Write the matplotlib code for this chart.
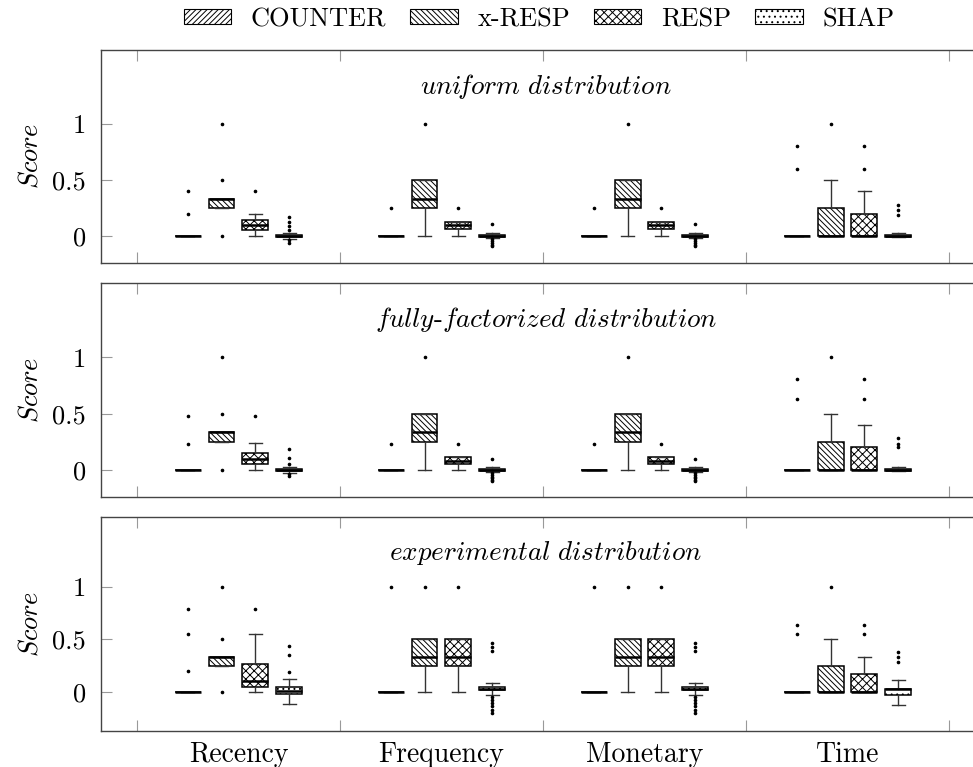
import matplotlib
matplotlib.use('Agg')
import matplotlib.pyplot as plt
from matplotlib.patches import Patch
import numpy as np

plt.rcParams['font.family'] = 'cmr10'
plt.rcParams['mathtext.fontset'] = 'cm'
plt.rcParams['axes.formatter.use_mathtext'] = True
plt.rcParams['hatch.linewidth'] = 0.7

features = ['Recency', 'Frequency', 'Monetary', 'Time']
methods = ['COUNTER', 'x-RESP', 'RESP', 'SHAP']
hatches = ['//////', '\\\\\\\\\\\\', 'xxxx', '...']
titles = [r'$\mathit{uni\!form\ distribution}$',
          r'$\mathit{fully}$-$\mathit{factorized\ distribution}$',
          r'$\mathit{experimental\ distribution}$']

# rows = features, columns = methods (COUNTER, x-RESP, RESP, SHAP)
######## uniform
uni_q1 = [[0, 0.25, 0.05, -0.005], [0, 0.25, 0.065, -0.005], [0, 0.25, 0.065, -0.005], [0, 0, 0, -0.005]]
uni_med = [[0, 0.333, 0.1, 0], [0, 0.333, 0.1, 0], [0, 0.333, 0.1, 0], [0, 0, 0, 0]]
uni_q3 = [[0, 0.333, 0.14, 0.01], [0, 0.5, 0.13, 0.01], [0, 0.5, 0.13, 0.01], [0, 0.25, 0.2, 0.01]]
uni_lo = [[0, 0.25, 0, -0.03], [0, 0, 0, -0.02], [0, 0, 0, -0.02], [0, 0, 0, -0.005]]
uni_hi = [[0, 0.333, 0.2, 0.03], [0, 0.5, 0.13, 0.03], [0, 0.5, 0.13, 0.03], [0, 0.5, 0.4, 0.03]]
uni_fl = [[[0.2, 0.4], [0, 0.5, 1], [0.4], [0.17, 0.13, 0.09, 0.05, -0.035, -0.065]],
          [[0.25], [1], [0.25], [0.11, -0.03, -0.045, -0.06, -0.075, -0.09]],
          [[0.25], [1], [0.25], [0.11, -0.03, -0.045, -0.06, -0.075, -0.09]],
          [[0.6, 0.8], [1], [0.6, 0.8], [0.19, 0.23, 0.28]]]

######## fully-factorized
ff_q1 = [[0, 0.25, 0.055, -0.005], [0, 0.25, 0.055, -0.005], [0, 0.25, 0.055, -0.005], [0, 0, 0, -0.005]]
ff_med = [[0, 0.333, 0.1, 0], [0, 0.333, 0.08, 0], [0, 0.333, 0.08, 0], [0, 0, 0, 0]]
ff_q3 = [[0, 0.333, 0.155, 0.01], [0, 0.5, 0.115, 0.01], [0, 0.5, 0.115, 0.01], [0, 0.25, 0.2, 0.01]]
ff_lo = [[0, 0.25, 0, -0.03], [0, 0, 0, -0.02], [0, 0, 0, -0.02], [0, 0, 0, -0.005]]
ff_hi = [[0, 0.333, 0.24, 0.03], [0, 0.5, 0.115, 0.03], [0, 0.5, 0.115, 0.03], [0, 0.5, 0.4, 0.03]]
ff_fl = [[[0.23, 0.48], [0, 0.5, 1], [0.48], [0.19, 0.11, 0.05, -0.04, -0.055]],
         [[0.23], [1], [0.23], [0.1, -0.03, -0.045, -0.06, -0.075, -0.09, -0.1]],
         [[0.23], [1], [0.23], [0.1, -0.03, -0.045, -0.06, -0.075, -0.09, -0.1]],
         [[0.63, 0.81], [1], [0.63, 0.81], [0.2, 0.23, 0.28]]]

######## experimental
ex_q1 = [[0, 0.25, 0.05, -0.02], [0, 0.25, 0.25, 0.02], [0, 0.25, 0.25, 0.02], [0, 0, 0, -0.03]]
ex_med = [[0, 0.333, 0.1, 0.01], [0, 0.333, 0.333, 0.03], [0, 0.333, 0.333, 0.03], [0, 0, 0, 0.03]]
ex_q3 = [[0, 0.333, 0.265, 0.05], [0, 0.5, 0.5, 0.05], [0, 0.5, 0.5, 0.05], [0, 0.25, 0.165, 0.03]]
ex_lo = [[0, 0.25, 0, -0.115], [0, 0, 0, -0.03], [0, 0, 0, -0.03], [0, 0, 0, -0.13]]
ex_hi = [[0, 0.333, 0.555, 0.125], [0, 0.5, 0.5, 0.08], [0, 0.5, 0.5, 0.08], [0, 0.5, 0.33, 0.115]]
ex_fl = [[[0.2, 0.55, 0.79], [0, 0.5, 1], [0.79], [0.185, 0.35, 0.44]],
         [[1], [1], [1], [0.39, 0.43, 0.47, -0.05, -0.08, -0.11, -0.14, -0.17, -0.2]],
         [[1], [1], [1], [0.39, 0.43, 0.47, -0.05, -0.08, -0.11, -0.14, -0.17, -0.2]],
         [[0.55, 0.64], [1], [0.55, 0.64], [0.28, 0.33, 0.38]]]

panels = [(uni_q1, uni_med, uni_q3, uni_lo, uni_hi, uni_fl),
          (ff_q1, ff_med, ff_q3, ff_lo, ff_hi, ff_fl),
          (ex_q1, ex_med, ex_q3, ex_lo, ex_hi, ex_fl)]
ylims = [(-0.24, 1.66), (-0.24, 1.66), (-0.375, 1.67)]

W, H = 973, 767
fig = plt.figure(figsize=(W / 100, H / 100), dpi=100)

# axes boxes in pixels (top, bottom); right edge runs off the picture
left, right = 101, 985
boxes_px = [(50, 263), (283, 497), (517, 731)]

offsets = [-0.25, -0.083, 0.083, 0.25]
feat_pos = np.arange(1, 5)
spine_col = '#444444'
tick_col = '#999999'

for p, (q1, med, q3, lo, hi, fl) in enumerate(panels):
    top, bot = boxes_px[p]
    ax = fig.add_axes([left / W, 1 - bot / H, (right - left) / W, (bot - top) / H])
    for m in range(4):
        stats = []
        for f in range(4):
            stats.append(dict(q1=q1[f][m], med=med[f][m], q3=q3[f][m],
                              whislo=lo[f][m], whishi=hi[f][m], fliers=fl[f][m]))
        ax.bxp(stats, positions=feat_pos + offsets[m], widths=0.127,
               patch_artist=True, manage_ticks=False,
               boxprops=dict(facecolor='white', edgecolor='black', hatch=hatches[m], linewidth=1.1),
               medianprops=dict(color='black', linewidth=1.8),
               whiskerprops=dict(color='#333333', linewidth=1.0),
               capprops=dict(color='#333333', linewidth=1.0),
               flierprops=dict(marker='o', markersize=1.6, markerfacecolor='black',
                               markeredgecolor='black', linestyle='none'))
    ax.set_xlim(0.323, 0.5 + (right - 137) / 203)
    ax.set_ylim(*ylims[p])
    ax.set_xticks(np.arange(0.5, 5, 1))
    ax.set_xticklabels([])
    ax.set_xticks(feat_pos, minor=True)
    if p == 2:
        ax.set_xticklabels(features, minor=True, fontsize=20)
    else:
        ax.set_xticklabels([], minor=True)
    ax.tick_params(axis='x', which='major', direction='in', top=True, length=8,
                   color=tick_col, width=0.8)
    ax.tick_params(axis='x', which='minor', length=0, pad=8)
    ax.set_yticks([0, 0.5, 1])
    ax.set_yticklabels(['0', '0.5', '1'], fontsize=19)
    ax.tick_params(axis='y', direction='in', right=True, length=8, color=tick_col,
                   width=0.8, pad=11)
    for s in ax.spines.values():
        s.set_color(spine_col)
        s.set_linewidth(1.0)
    ax.set_ylabel(r'$\mathit{Score}$', fontsize=19, labelpad=7)
    ax.text(0.503, 0.83, titles[p], transform=ax.transAxes, ha='center', va='center',
            fontsize=19.5)

handles = [Patch(facecolor='white', edgecolor='black', hatch=h, linewidth=0.8) for h in hatches]
fig.legend(handles, methods, loc='center', bbox_to_anchor=(0.554, 0.975), ncol=4,
           frameon=False, fontsize=19, handlelength=1.8, handleheight=0.5,
           columnspacing=0.9, handletextpad=0.75)

fig.savefig('out.png', dpi=100)
